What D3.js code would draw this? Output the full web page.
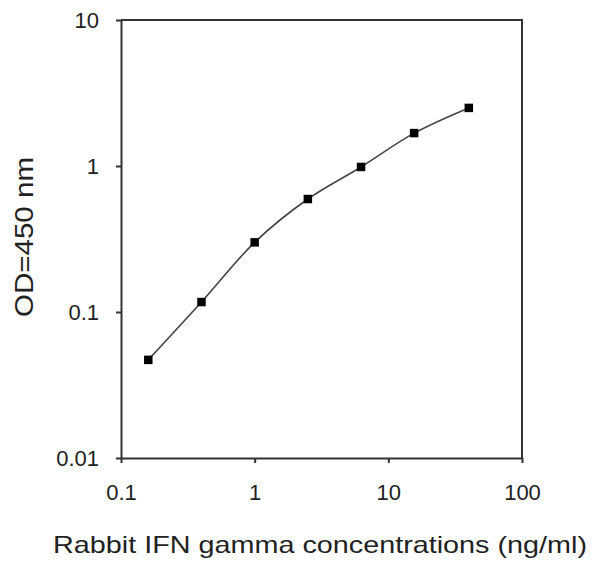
<!DOCTYPE html>
<html>
<head>
<meta charset="utf-8">
<script src="https://cdn.jsdelivr.net/npm/d3@7"></script>
<style>
  body { margin: 0; background: #fff; }
  text { font-family: "Liberation Sans", Arial, sans-serif; fill: #222; }
</style>
</head>
<body>
<div id="chart"></div>
<script>
// standard curve readings
const concentrations = [0.16, 0.4, 1, 2.5, 6.25, 15.6, 40];
const odValues = [0.047, 0.117, 0.30, 0.594, 0.985, 1.68, 2.5];
const xTicks = [0.1, 1, 10, 100];
const yTicks = [0.01, 0.1, 1, 10];

const data = concentrations.map((c, i) => ({conc: c, od: odValues[i]}));

const margin = {top: 20, right: 71, bottom: 103, left: 121},
      width = 593 - margin.left - margin.right,
      height = 561 - margin.top - margin.bottom;

const svg = d3.select("#chart")
              .append("svg")
              .attr("width", 593)
              .attr("height", 561)
              .append("g")
              .attr("transform", `translate(${margin.left},${margin.top})`);

const xScale = d3.scaleLog()
                 .domain([0.1, 100])
                 .range([0, width]);

const yScale = d3.scaleLog()
                 .domain([0.01, 10])
                 .range([height, 0]);

const fmt = d => d3.format("~g")(d);

// frame (top and right)
svg.append("path")
   .attr("d", `M0,0H${width}V${height}`)
   .attr("fill", "none")
   .attr("stroke", "#333")
   .attr("stroke-width", 2);

const xAxis = svg.append("g")
   .attr("transform", `translate(0, ${height})`)
   .call(d3.axisBottom(xScale).tickValues(xTicks).tickFormat(fmt).tickSize(5).tickSizeOuter(0).tickPadding(21));

const yAxis = svg.append("g")
   .call(d3.axisLeft(yScale).tickValues(yTicks).tickFormat(fmt).tickSize(5).tickSizeOuter(0).tickPadding(17));

[xAxis, yAxis].forEach(ax => {
    ax.select(".domain").attr("stroke", "#333").attr("stroke-width", 2);
    ax.selectAll(".tick line").attr("stroke", "#333").attr("stroke-width", 2);
    ax.selectAll(".tick text")
      .attr("fill", "#222")
      .style("font-family", "'Liberation Sans', Arial, sans-serif")
      .style("font-size", "22px");
});
yAxis.selectAll(".tick text").attr("dy", "0.35em");

svg.append("text")
   .attr("x", 320 - margin.left)
   .attr("y", height + 95)
   .attr("text-anchor", "middle")
   .attr("textLength", 534)
   .attr("lengthAdjust", "spacingAndGlyphs")
   .style("font-size", "24px")
   .text("Rabbit IFN gamma concentrations (ng/ml)");

svg.append("text")
   .attr("x", -237 + margin.top)
   .attr("y", -margin.left + 33)
   .attr("text-anchor", "middle")
   .attr("transform", "rotate(-90)")
   .attr("textLength", 160)
   .attr("lengthAdjust", "spacingAndGlyphs")
   .style("font-size", "25px")
   .text("OD=450 nm");

const line = d3.line()
               .x(d => xScale(d.conc))
               .y(d => yScale(d.od))
               .curve(d3.curveCatmullRom.alpha(0.5));

svg.append("path")
   .datum(data)
   .attr("fill", "none")
   .attr("stroke", "#444")
   .attr("stroke-width", 1.6)
   .attr("d", line);

svg.selectAll("path.pt")
   .data(data)
   .enter()
   .append("path")
   .attr("class", "pt")
   .attr("transform", d => `translate(${xScale(d.conc)},${yScale(d.od)})`)
   .attr("d", d3.symbol().type(d3.symbolSquare).size(72))
   .attr("fill", "#000");
</script>
</body>
</html>
